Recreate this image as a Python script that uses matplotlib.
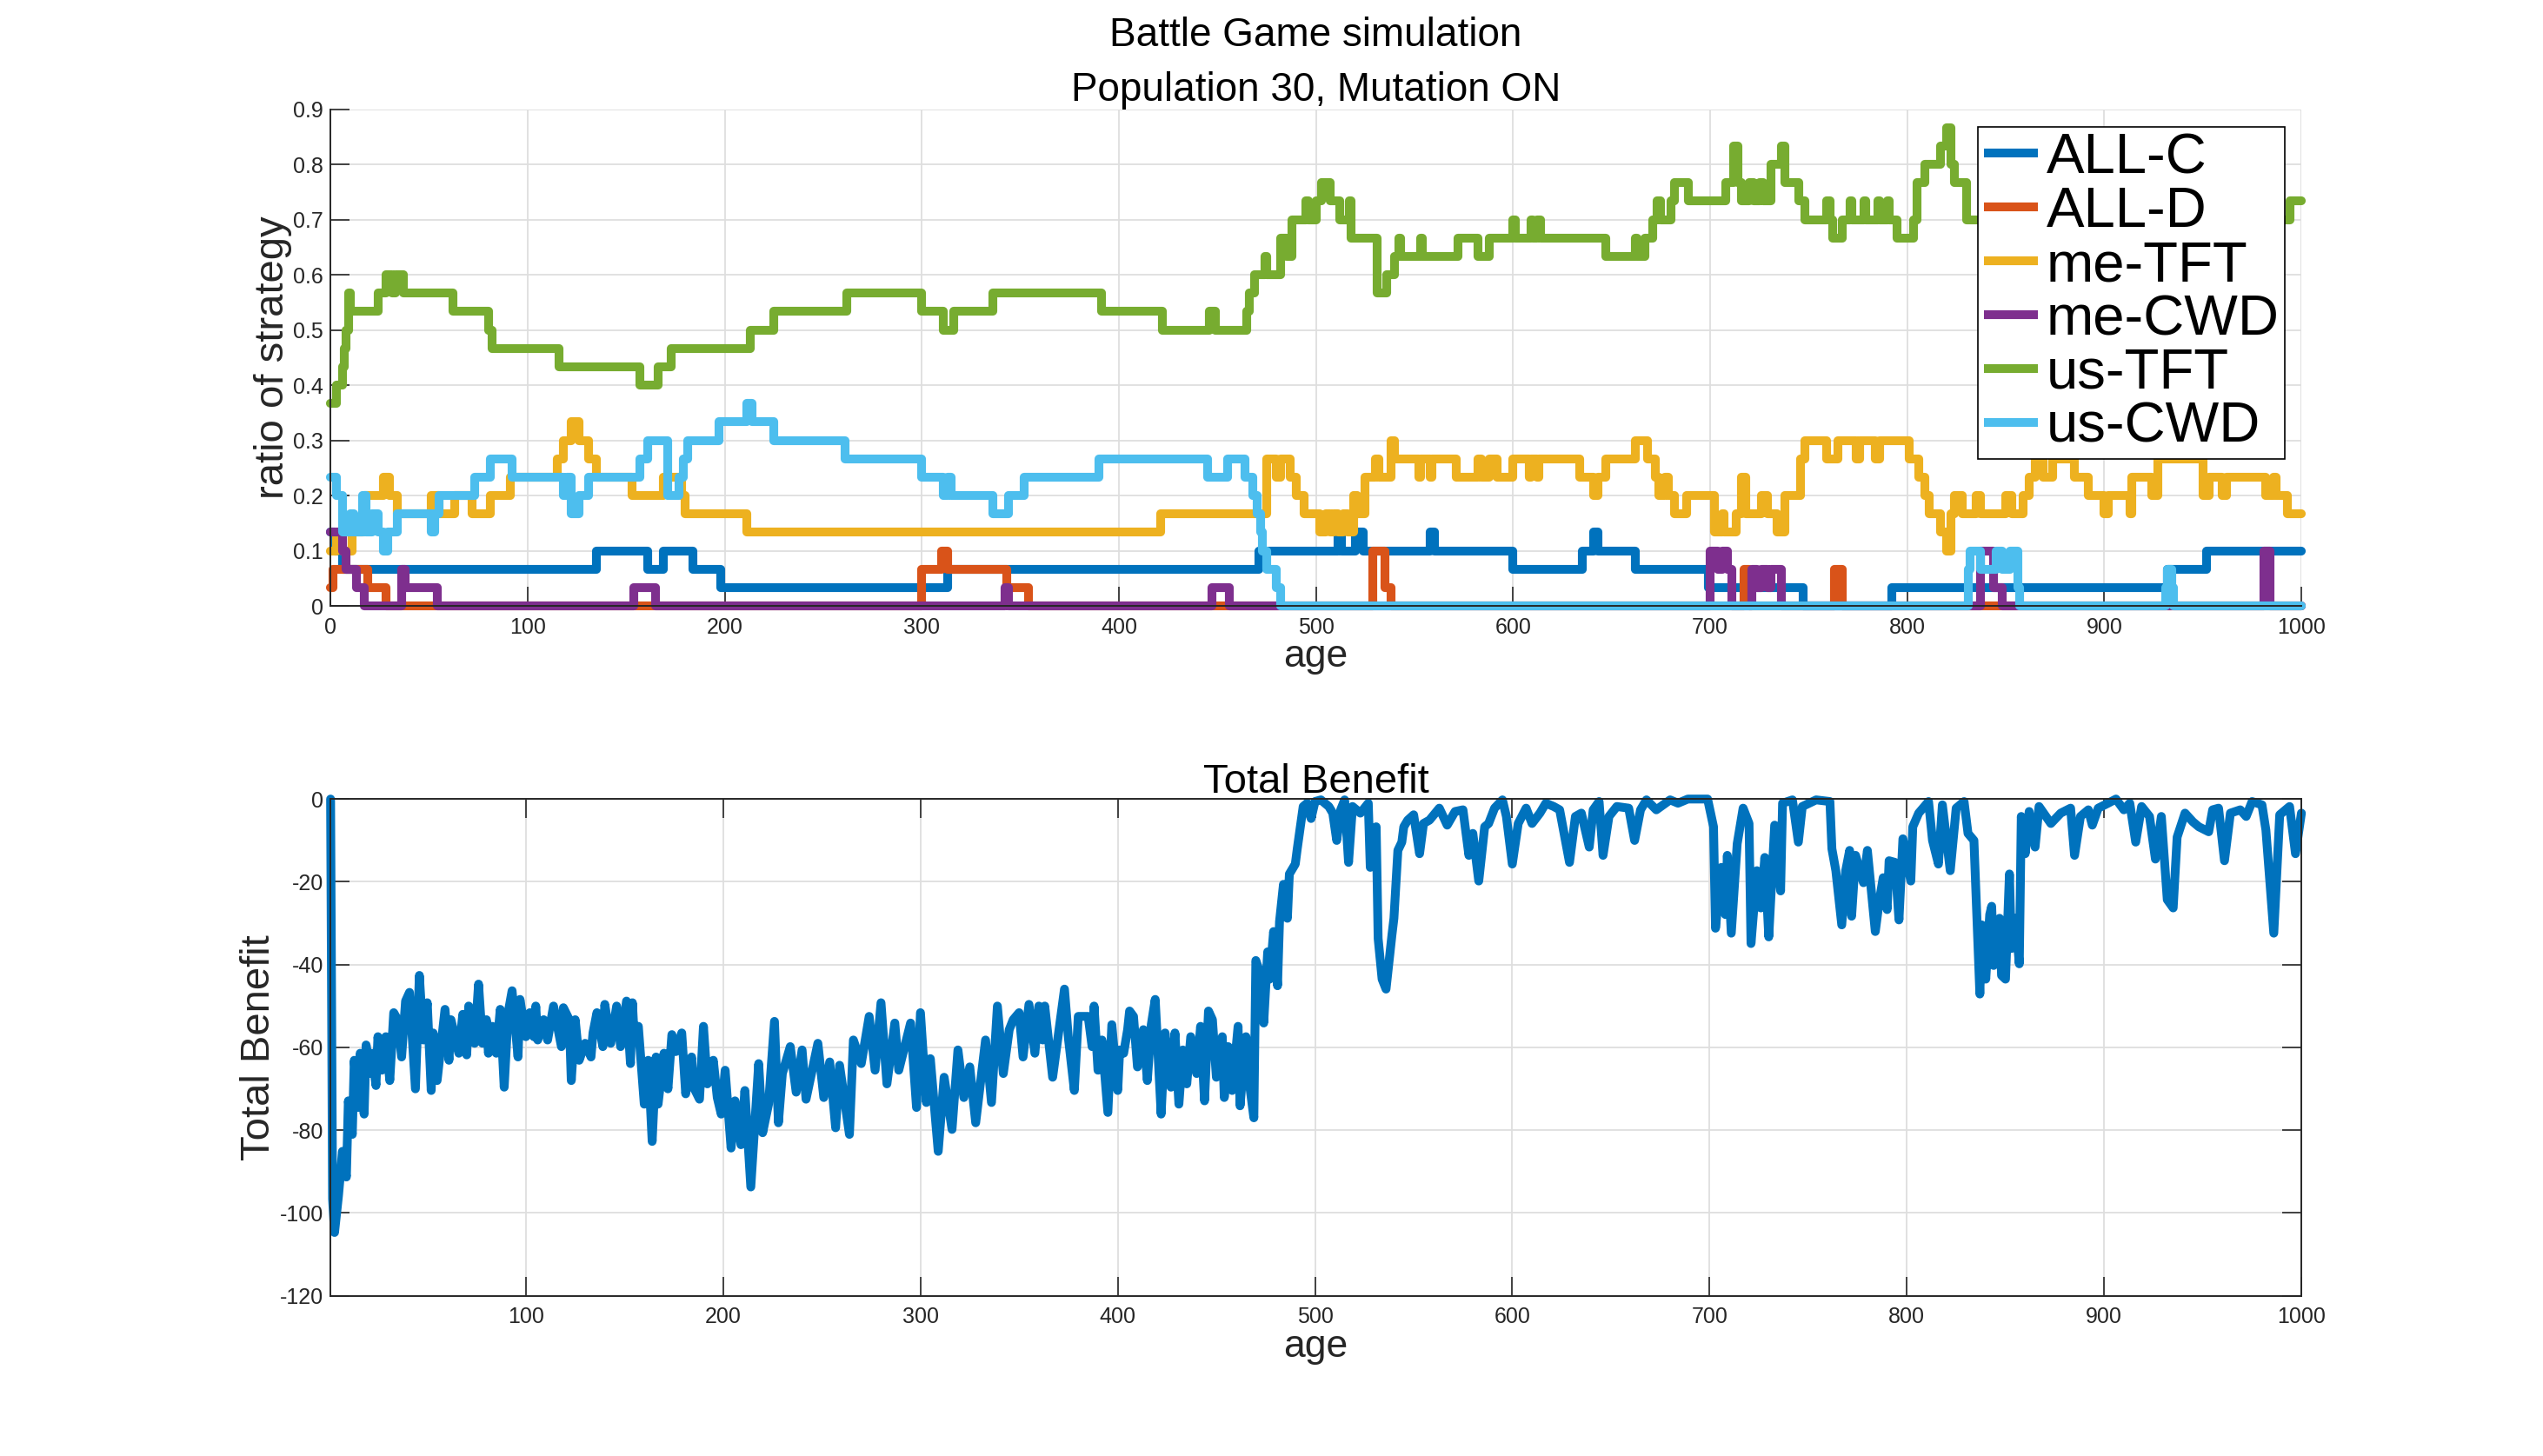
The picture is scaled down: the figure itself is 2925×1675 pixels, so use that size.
#!/usr/bin/env python3
"""Battle Game simulation: strategy ratios (top) and total benefit (bottom)."""

import matplotlib
matplotlib.use("Agg")
import matplotlib.pyplot as plt
import numpy as np

plt.rcParams["font.family"] = ["Liberation Sans", "DejaVu Sans"]
plt.rcParams["axes.unicode_minus"] = False

POP = 30  # population size, counts are out of this

# --- strategy counts, (age where level starts, number of agents) ---
ALLC_AGE = [0, 2, 6, 135, 161, 169, 184, 198, 313, 471, 511, 513, 520, 524,
            558, 560, 600, 635, 641, 643, 662, 699, 747, 792, 932, 952, 1000]
ALLC_N = [4, 3, 2, 3, 2, 3, 2, 1, 2, 3, 4, 3, 4, 3,
          4, 3, 2, 3, 4, 3, 2, 1, 0, 1, 2, 3, 3]

ALLD_AGE = [0, 1, 19, 28, 300, 310, 313, 343, 354, 529, 535, 538, 717, 720,
            763, 767, 1000]
ALLD_N = [1, 2, 1, 0, 2, 3, 2, 1, 0, 3, 1, 0, 2, 0,
          2, 0, 0]

METFT_AGE = [0, 3, 6, 11, 17, 27, 30, 34, 51, 55,
             63, 72, 81, 91, 115, 118, 122, 126, 131, 135,
             153, 169, 178, 180, 211, 421, 475, 480, 482, 487,
             490, 494, 502, 505, 507, 509, 511, 514, 516, 519,
             521, 525, 530, 532, 538, 540, 552, 553, 558, 559,
             571, 582, 584, 588, 592, 600, 608, 609, 612, 613,
             634, 641, 643, 647, 662, 668, 672, 674, 677, 679,
             682, 688, 702, 706, 707, 713, 716, 718, 726, 729,
             734, 738, 746, 748, 759, 765, 774, 776, 784, 786,
             801, 806, 809, 811, 817, 820, 822, 824, 828, 835,
             837, 850, 853, 859, 862, 865, 869, 874, 885, 892,
             900, 902, 913, 914, 924, 927, 950, 953, 960, 962,
             982, 986, 987, 993, 1000]
METFT_N = [3, 4, 3, 4, 6, 7, 6, 5, 6, 5,
           6, 5, 6, 7, 8, 9, 10, 9, 8, 7,
           6, 7, 6, 5, 4, 5, 8, 7, 8, 7,
           6, 5, 4, 5, 4, 5, 4, 5, 4, 6,
           5, 7, 8, 7, 9, 8, 7, 8, 7, 8,
           7, 8, 7, 8, 7, 8, 7, 8, 7, 8,
           7, 6, 7, 8, 9, 8, 7, 6, 7, 6,
           5, 6, 4, 5, 4, 5, 7, 5, 6, 5,
           4, 6, 8, 9, 8, 9, 8, 9, 8, 9,
           8, 7, 6, 5, 4, 3, 5, 6, 5, 6,
           5, 6, 5, 6, 7, 8, 7, 8, 7, 6,
           5, 6, 5, 7, 6, 8, 6, 7, 6, 7,
           6, 7, 6, 5, 5]

MECWD_AGE = [0, 6, 8, 13, 17, 36, 38, 54, 154, 165,
             342, 344, 447, 456, 700, 704, 706, 709, 711, 721,
             724, 726, 729, 731, 736, 837, 844, 848, 981, 984, 1000]
MECWD_N = [4, 3, 2, 1, 0, 2, 1, 0, 1, 0,
           1, 0, 1, 0, 3, 2, 3, 2, 0, 2,
           1, 2, 1, 2, 0, 3, 1, 0, 3, 0, 0]

USTFT_AGE = [0, 3, 6, 7, 8, 9, 10, 24, 28, 31,
             33, 37, 62, 80, 82, 116, 157, 166, 173, 213,
             225, 262, 300, 311, 316, 336, 391, 422, 446, 449,
             465, 466, 469, 474, 475, 482, 485, 488, 495, 496,
             500, 503, 507, 512, 517, 518, 531, 536, 540, 542,
             543, 553, 554, 572, 582, 588, 600, 601, 609, 610,
             612, 614, 647, 662, 663, 667, 671, 673, 675, 680,
             682, 689, 708, 712, 714, 716, 720, 722, 725, 727,
             731, 736, 738, 745, 748, 759, 761, 762, 767, 771,
             772, 778, 779, 785, 786, 790, 791, 795, 803, 805,
             809, 817, 820, 822, 824, 830, 870, 900, 950, 975,
             994, 1000]
USTFT_N = [11, 12, 13, 14, 15, 17, 16, 17, 18, 17,
           18, 17, 16, 15, 14, 13, 12, 13, 14, 15,
           16, 17, 16, 15, 16, 17, 16, 15, 16, 15,
           16, 17, 18, 19, 18, 20, 19, 21, 22, 21,
           22, 23, 22, 21, 22, 20, 17, 18, 19, 20,
           19, 20, 19, 20, 19, 20, 21, 20, 21, 20,
           21, 20, 19, 20, 19, 20, 21, 22, 21, 22,
           23, 22, 23, 25, 23, 22, 23, 22, 23, 22,
           24, 25, 23, 22, 21, 22, 21, 20, 21, 22,
           21, 22, 21, 22, 21, 22, 21, 20, 21, 23,
           24, 25, 26, 24, 23, 21, 22, 21, 22, 21,
           22, 22]

USCWD_AGE = [0, 3, 6, 10, 12, 16, 18, 21, 24, 27,
             29, 34, 51, 53, 55, 73, 81, 92, 118, 120,
             122, 126, 131, 157, 161, 171, 177, 179, 181, 197,
             211, 214, 225, 261, 300, 311, 313, 315, 336, 344,
             352, 390, 445, 455, 464, 468, 470, 472, 473, 475,
             480, 482, 831, 832, 837, 845, 848, 852, 856, 857,
             931, 932, 934, 935, 1000]
USCWD_N = [7, 6, 4, 5, 4, 6, 4, 5, 4, 3,
           4, 5, 4, 5, 6, 7, 8, 7, 6, 7,
           5, 6, 7, 8, 9, 6, 7, 8, 9, 10,
           11, 10, 9, 8, 7, 6, 7, 6, 5, 6,
           7, 8, 7, 8, 7, 6, 5, 4, 3, 2,
           1, 0, 2, 3, 2, 3, 2, 3, 1, 0,
           1, 2, 1, 0, 0]

STRATEGIES = ["ALL-C", "ALL-D", "me-TFT", "me-CWD", "us-TFT", "us-CWD"]
COLORS = ["#0072BD", "#D95319", "#EDB120", "#7E2F8E", "#77AC30", "#4DBEEE"]

# --- total benefit samples (age, value) ---
BENEFIT_AGE = [
    1, 2, 3, 5, 7, 9, 10, 12, 13, 15,
    16, 18, 19, 21, 22, 24, 25, 27, 29, 31,
    33, 35, 37, 39, 41, 44, 46, 48, 50, 52,
    53, 55, 59, 61, 62, 66, 68, 70, 71, 74,
    76, 78, 80, 81, 83, 85, 87, 89, 91, 93,
    96, 97, 100, 102, 104, 105, 106, 109, 111, 114,
    118, 119, 122, 123, 125, 127, 130, 133, 134, 136,
    139, 140, 143, 146, 148, 151, 153, 154, 155, 157,
    160, 162, 164, 166, 167, 170, 172, 174, 176, 179,
    181, 184, 185, 188, 190, 192, 195, 197, 199, 201,
    204, 206, 209, 211, 214, 218, 220, 223, 226, 228,
    230, 234, 237, 240, 242, 248, 251, 254, 257, 259,
    264, 266, 270, 274, 277, 280, 283, 287, 289, 295,
    298, 300, 303, 305, 309, 312, 316, 319, 322, 325,
    328, 333, 336, 339, 342, 345, 347, 350, 352, 355,
    358, 360, 362, 363, 367, 370, 373, 375, 378, 380,
    385, 387, 388, 390, 392, 395, 397, 400, 401, 403,
    405, 406, 408, 410, 413, 415, 417, 419, 422, 424,
    427, 429, 431, 433, 435, 437, 440, 442, 444, 446,
    448, 450, 453, 454, 456, 458, 461, 462, 465, 467,
    469, 470, 472, 474, 476, 477, 479, 481, 482, 484,
    486, 487, 490, 491, 494, 496, 498, 500, 503, 507,
    509, 511, 513, 515, 517, 519, 523, 527, 528, 531,
    532, 534, 536, 539, 540, 542, 544, 545, 547, 550,
    553, 555, 558, 563, 567, 571, 575, 578, 580, 583,
    586, 588, 591, 595, 597, 600, 603, 607, 610, 614,
    617, 621, 624, 629, 632, 635, 639, 641, 644, 646,
    649, 653, 659, 662, 665, 668, 673, 680, 684, 689,
    699, 702, 703, 706, 708, 709, 711, 714, 717, 720,
    721, 724, 726, 728, 730, 733, 736, 737, 742, 745,
    747, 754, 761, 762, 764, 767, 769, 771, 772, 774,
    778, 780, 784, 786, 788, 790, 791, 794, 796, 798,
    802, 803, 806, 811, 813, 816, 818, 822, 825, 829,
    831, 834, 837, 838, 840, 842, 843, 844, 847, 848,
    850, 852, 853, 855, 857, 858, 860, 862, 865, 867,
    873, 878, 883, 885, 888, 892, 894, 897, 902, 906,
    910, 913, 916, 919, 923, 926, 929, 932, 935, 937,
    941, 945, 948, 953, 955, 958, 961, 964, 969, 972,
    975, 980, 982, 986, 989, 994, 997, 1000,
]
BENEFIT = [
    0, -96.6, -104.7, -95.8, -85.1, -91.3, -72.9, -81.0, -63.1, -74.5,
    -61.4, -76.1, -59.4, -66.3, -61.4, -69.2, -57.4, -65.5, -57.4, -68.0,
    -51.6, -53.3, -62.3, -48.8, -46.7, -70.0, -42.6, -58.2, -49.2, -70.4,
    -56.5, -68.0, -50.8, -63.1, -53.3, -61.4, -52.0, -61.8, -50.0, -59.0,
    -44.7, -59.0, -53.3, -61.4, -54.9, -61.4, -50.8, -69.6, -51.6, -46.3,
    -62.3, -48.4, -57.4, -51.6, -57.4, -50.0, -58.2, -53.3, -58.2, -50.0,
    -59.8, -50.4, -53.3, -68.0, -53.3, -63.1, -59.0, -62.3, -56.5, -51.6,
    -59.8, -49.6, -59.0, -50.0, -59.8, -48.8, -63.9, -49.2, -58.2, -54.9,
    -73.7, -63.1, -82.7, -62.3, -73.7, -61.4, -70.0, -56.9, -61.0, -56.5,
    -71.2, -62.3, -69.6, -72.5, -54.9, -68.8, -63.1, -72.1, -76.1, -65.5,
    -84.3, -72.9, -83.5, -70.4, -93.7, -63.9, -80.6, -73.7, -53.7, -78.2,
    -66.3, -59.8, -70.8, -60.6, -72.5, -59.0, -72.1, -63.5, -79.4, -64.3,
    -81.0, -58.2, -63.9, -52.5, -65.5, -49.2, -68.8, -54.1, -65.5, -54.1,
    -74.5, -51.6, -73.3, -62.7, -85.1, -67.2, -79.8, -60.6, -72.1, -64.7,
    -78.2, -58.2, -73.3, -50.0, -66.3, -55.7, -53.3, -51.6, -62.3, -49.6,
    -61.4, -50.0, -58.2, -50.0, -67.2, -56.5, -45.9, -57.8, -70.4, -52.5,
    -52.5, -59.8, -50.0, -65.5, -58.2, -75.7, -54.5, -70.4, -60.6, -61.4,
    -55.7, -51.2, -52.5, -64.7, -55.7, -68.0, -54.5, -48.4, -76.1, -56.5,
    -69.6, -56.5, -73.7, -60.6, -68.8, -57.4, -66.3, -54.9, -72.9, -51.2,
    -53.3, -67.2, -57.4, -72.1, -59.8, -70.4, -54.9, -74.1, -57.4, -69.6,
    -77.0, -39.0, -41.8, -54.1, -36.9, -43.5, -32.0, -45.1, -29.6, -20.6,
    -28.8, -18.1, -15.7, -12.0, -1.8, -1.0, -4.7, -0.6, -0.2, -1.8,
    -3.4, -10.0, -2.6, -0.2, -15.3, -1.8, -3.4, -1.0, -16.5, -6.7,
    -33.7, -43.5, -45.9, -32.8, -28.8, -12.4, -10.4, -6.7, -5.1, -3.8,
    -13.2, -5.9, -5.1, -2.2, -6.3, -3.0, -2.6, -13.6, -8.3, -19.8,
    -6.7, -5.9, -2.2, -0.2, -4.2, -15.7, -5.9, -2.2, -5.9, -3.4,
    -1.0, -1.8, -2.6, -15.3, -4.2, -3.4, -11.6, -2.6, -0.6, -13.6,
    -4.2, -1.8, -2.2, -10.0, -2.6, -0.2, -2.6, -0.2, -1.0, 0,
    0, -6.7, -31.2, -16.5, -27.9, -13.6, -32.4, -10.8, -2.2, -5.9,
    -34.9, -17.3, -26.3, -14.1, -33.3, -6.3, -22.2, -1.0, -0.2, -10.4,
    -1.8, -0.2, -0.6, -12.0, -17.3, -30.4, -17.3, -12.4, -28.3, -13.6,
    -20.2, -12.4, -32.0, -24.7, -19.0, -26.7, -14.9, -15.3, -29.2, -9.6,
    -19.8, -6.7, -3.4, -0.6, -10.0, -15.7, -1.4, -17.3, -2.2, -0.6,
    -8.3, -10.0, -47.1, -30.4, -43.5, -27.9, -25.9, -40.2, -28.8, -42.6,
    -43.5, -18.1, -36.1, -28.8, -39.8, -4.2, -13.2, -3.0, -11.6, -1.8,
    -5.9, -3.4, -2.2, -13.6, -4.2, -2.6, -6.3, -2.2, -1.0, 0,
    -2.6, -1.0, -10.4, -1.8, -4.2, -14.5, -4.2, -24.3, -26.3, -9.2,
    -3.4, -5.5, -6.7, -7.9, -2.6, -2.2, -14.9, -3.4, -2.6, -4.2,
    -0.6, -1.4, -7.5, -32.4, -3.8, -1.8, -13.2, -3.4,
]

TOP_XTICKS = list(range(0, 1001, 100))
TOP_YTICKS = [0, 0.1, 0.2, 0.3, 0.4, 0.5, 0.6, 0.7, 0.8, 0.9]
TOP_YLABELS = ["0", "0.1", "0.2", "0.3", "0.4", "0.5", "0.6", "0.7", "0.8", "0.9"]
BOT_XTICKS = list(range(100, 1001, 100))
BOT_YTICKS = list(range(-120, 1, 20))

AX_COLOR = "#262626"
GRID_COLOR = "#dedede"
LW = 7.3


def style_axes(ax, box):
    ax.grid(True, color=GRID_COLOR, linewidth=1.3)
    ax.set_axisbelow(True)
    for side in ("left", "bottom", "top", "right"):
        ax.spines[side].set_color(AX_COLOR)
        ax.spines[side].set_linewidth(1.4)
    if not box:
        ax.spines["top"].set_visible(False)
        ax.spines["right"].set_visible(False)
    ax.tick_params(direction="in", length=16, width=1.2, colors=AX_COLOR,
                   labelsize=18, top=box, right=box)
    ax.tick_params(axis="x", pad=9)
    ax.tick_params(axis="y", pad=6)


def main():
    fig = plt.figure(figsize=(29.25, 16.75), dpi=100)

    # ---------------- top: ratio of each strategy ----------------
    ax1 = fig.add_axes([0.13, 0.5838, 0.775, 0.3412])
    series = [
        (ALLC_AGE, ALLC_N), (ALLD_AGE, ALLD_N), (METFT_AGE, METFT_N),
        (MECWD_AGE, MECWD_N), (USTFT_AGE, USTFT_N), (USCWD_AGE, USCWD_N),
    ]
    for (ages, counts), name, col in zip(series, STRATEGIES, COLORS):
        ax1.plot(ages, np.array(counts) / POP, drawstyle="steps-post",
                 color=col, linewidth=LW, label=name, clip_on=False,
                 solid_joinstyle="round", solid_capstyle="round")
    ax1.set_xlim(0, 1000)
    ax1.set_ylim(0, 0.9)
    ax1.set_xticks(TOP_XTICKS)
    ax1.set_yticks(TOP_YTICKS)
    ax1.set_yticklabels(TOP_YLABELS)
    style_axes(ax1, box=False)
    ax1.set_xlabel("age", fontsize=32, labelpad=1, color=AX_COLOR)
    ax1.set_ylabel("ratio of strategy", fontsize=34, labelpad=1, color=AX_COLOR)
    ax1.set_title("Battle Game simulation\nPopulation 30, Mutation ON",
                  fontsize=33, pad=3, linespacing=1.55)

    leg = ax1.legend(loc="upper right", bbox_to_anchor=(0.9916, 0.965),
                     borderaxespad=0, fontsize=47, fancybox=False,
                     framealpha=1, edgecolor="black", handlelength=0.95,
                     handletextpad=0.15, labelspacing=0.03, borderpad=0.1)
    leg.get_frame().set_linewidth(1.2)
    for line in leg.get_lines():
        line.set_linewidth(LW)
        line.set_solid_capstyle("butt")

    # ---------------- bottom: total benefit ----------------
    ax2 = fig.add_axes([0.13, 0.11, 0.775, 0.3412])
    ax2.plot(BENEFIT_AGE, BENEFIT, color=COLORS[0], linewidth=LW,
             clip_on=False, solid_joinstyle="round", solid_capstyle="round")
    ax2.set_xlim(1, 1000)
    ax2.set_ylim(-120, 0)
    ax2.set_xticks(BOT_XTICKS)
    ax2.set_yticks(BOT_YTICKS)
    style_axes(ax2, box=True)
    ax2.set_xlabel("age", fontsize=32, labelpad=1, color=AX_COLOR)
    ax2.set_ylabel("Total Benefit", fontsize=34, labelpad=1, color=AX_COLOR)
    ax2.set_title("Total Benefit", fontsize=34, pad=5)

    fig.savefig("out.png", dpi=100, facecolor="white")
    plt.close(fig)


if __name__ == "__main__":
    main()
